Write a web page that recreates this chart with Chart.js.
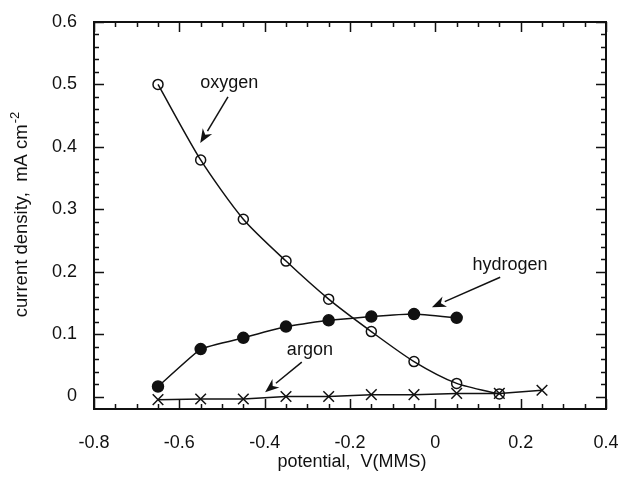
<!DOCTYPE html>
<html>
<head>
<meta charset="utf-8">
<script src="https://cdn.jsdelivr.net/npm/chart.js@4/dist/chart.umd.min.js"></script>
<style>
    html, body { margin: 0; padding: 0; background: #fff; }
    #wrap { width: 621px; height: 480px; position: relative; }
</style>
</head>
<body>
<div id="wrap"><canvas id="chart"></canvas></div>
<script>
// Data
const potentials = [-0.65, -0.55, -0.45, -0.35, -0.25, -0.15, -0.05, 0.05, 0.15, 0.25];
const oxygen = [0.500, 0.379, 0.284, 0.217, 0.156, 0.104, 0.056, 0.021, 0.004];
const hydrogen = [0.016, 0.076, 0.094, 0.112, 0.122, 0.128, 0.132, 0.126];
const argon = [-0.005, -0.004, -0.004, 0.000, 0.000, 0.003, 0.003, 0.005, 0.005, 0.010];

const xTicks = [-0.8, -0.6, -0.4, -0.2, 0, 0.2, 0.4];
const yTicks = [0, 0.1, 0.2, 0.3, 0.4, 0.5, 0.6];

// Annotation labels with arrows (data coords): label at [x, y], arrow from -> to
const notes = [
    { text: 'oxygen', at: [-0.483, 0.502], from: [-0.486, 0.480], to: [-0.551, 0.406] },
    { text: 'hydrogen', at: [0.175, 0.210], from: [0.152, 0.191], to: [-0.008, 0.143] },
    { text: 'argon', at: [-0.294, 0.074], from: [-0.313, 0.055], to: [-0.399, 0.007] }
];

const FONT = '"Liberation Sans", Arial, Helvetica, sans-serif';
const INK = '#111';

const toPoints = (vals) => vals.map((v, i) => ({ x: potentials[i], y: v }));

const Frame = {
    id: 'frame',
    afterDraw: (chart) => {
        const { ctx, chartArea: a, scales } = chart;
        const x = scales.x, y = scales.y;
        ctx.save();
        ctx.strokeStyle = INK;
        ctx.lineWidth = 2;
        ctx.strokeRect(a.left, a.top, a.right - a.left, a.bottom - a.top);

        // inward ticks on all four sides
        ctx.lineWidth = 1.5;
        ctx.beginPath();
        for (let i = -16; i <= 8; i++) {
            const v = i * 0.05;
            const px = Math.round(x.getPixelForValue(v)) + 0.5;
            const len = i % 4 === 0 ? 10 : 5;
            ctx.moveTo(px, a.bottom); ctx.lineTo(px, a.bottom - len);
            ctx.moveTo(px, a.top); ctx.lineTo(px, a.top + len);
        }
        for (let i = 0; i <= 30; i++) {
            const v = i * 0.02;
            const py = Math.round(y.getPixelForValue(v)) + 0.5;
            const len = i % 5 === 0 ? 10 : 5;
            ctx.moveTo(a.left, py); ctx.lineTo(a.left + len, py);
            ctx.moveTo(a.right, py); ctx.lineTo(a.right - len, py);
        }
        ctx.stroke();

        // axis titles
        ctx.fillStyle = INK;
        ctx.font = '18px ' + FONT;
        ctx.textAlign = 'center';
        ctx.textBaseline = 'middle';
        ctx.fillText('potential,  V(MMS)', 352, 462);

        ctx.save();
        ctx.translate(22, 215);
        ctx.rotate(-Math.PI / 2);
        const main = 'current density,  mA cm';
        const sup = '-2';
        ctx.font = '18.5px ' + FONT;
        const w1 = ctx.measureText(main).width;
        ctx.font = '13px ' + FONT;
        const w2 = ctx.measureText(sup).width;
        const start = -(w1 + w2) / 2;
        ctx.textAlign = 'left';
        ctx.font = '18.5px ' + FONT;
        ctx.fillText(main, start, 0);
        ctx.font = '13px ' + FONT;
        ctx.fillText(sup, start + w1 + 1, -7);
        ctx.restore();

        // annotations
        ctx.font = '18px ' + FONT;
        ctx.textAlign = 'center';
        ctx.lineWidth = 1.5;
        notes.forEach(n => {
            ctx.fillText(n.text, x.getPixelForValue(n.at[0]), y.getPixelForValue(n.at[1]));
            const x0 = x.getPixelForValue(n.from[0]), y0 = y.getPixelForValue(n.from[1]);
            const x1 = x.getPixelForValue(n.to[0]), y1 = y.getPixelForValue(n.to[1]);
            const ang = Math.atan2(y1 - y0, x1 - x0);
            const hl = 14, hw = 5.5;
            const bx = x1 - hl * Math.cos(ang), by = y1 - hl * Math.sin(ang);
            ctx.beginPath();
            ctx.moveTo(x0, y0); ctx.lineTo(bx, by);
            ctx.stroke();
            ctx.beginPath();
            ctx.moveTo(x1, y1);
            ctx.lineTo(bx + hw * Math.sin(ang), by - hw * Math.cos(ang));
            ctx.lineTo(x1 - hl * 0.7 * Math.cos(ang), y1 - hl * 0.7 * Math.sin(ang));
            ctx.lineTo(bx - hw * Math.sin(ang), by + hw * Math.cos(ang));
            ctx.closePath();
            ctx.fill();
        });
        ctx.restore();
    }
};

const line = {
    borderColor: INK,
    borderWidth: 1.5,
    pointBorderColor: INK,
    pointBorderWidth: 1.5,
    showLine: true,
    fill: false
};

new Chart(document.getElementById('chart'), {
    type: 'scatter',
    data: {
        datasets: [
            { ...line, label: 'argon', data: toPoints(argon), pointStyle: 'crossRot', pointRadius: 7.5, tension: 0 },
            { ...line, label: 'oxygen', data: toPoints(oxygen), pointStyle: 'circle', pointRadius: 5, pointBackgroundColor: 'rgba(0,0,0,0)', tension: 0.25 },
            { ...line, label: 'hydrogen', data: toPoints(hydrogen), pointStyle: 'circle', pointRadius: 5.5, pointBackgroundColor: INK, tension: 0.1 }
        ]
    },
    options: {
        responsive: true,
        maintainAspectRatio: false,
        animation: false,
        layout: { padding: { top: 22, right: 15, left: 0, bottom: 0 } },
        plugins: { legend: { display: false }, tooltip: { enabled: false } },
        scales: {
            x: {
                type: 'linear', min: -0.8, max: 0.4,
                afterBuildTicks: (s) => { s.ticks = xTicks.map(v => ({ value: v })); },
                afterFit: (s) => { s.height = 71; s.paddingLeft = 0; s.paddingRight = 0; },
                grid: { display: false, drawTicks: false },
                border: { display: false },
                ticks: { padding: 23, color: INK, font: { family: FONT, size: 18 }, callback: (v) => String(Math.round(v * 10) / 10) }
            },
            y: {
                type: 'linear', min: -0.02, max: 0.6,
                afterBuildTicks: (s) => { s.ticks = yTicks.map(v => ({ value: v })); },
                afterFit: (s) => { s.width = 94; s.paddingTop = 0; s.paddingBottom = 0; },
                grid: { display: false, drawTicks: false },
                border: { display: false },
                ticks: { padding: 17, color: INK, font: { family: FONT, size: 18 }, callback: (v) => String(Math.round(v * 10) / 10) }
            }
        }
    },
    plugins: [Frame]
});
</script>
</body>
</html>
